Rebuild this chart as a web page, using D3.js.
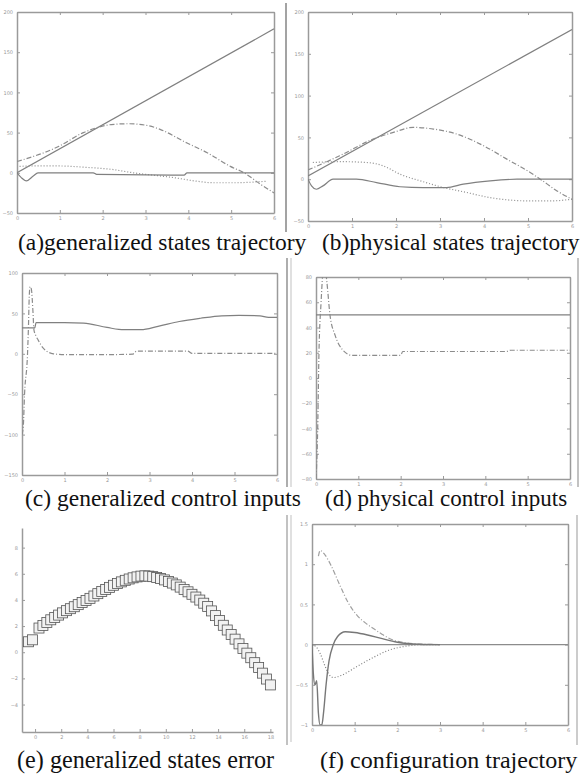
<!DOCTYPE html>
<html>
<head>
<meta charset="utf-8">
<script src="https://cdn.jsdelivr.net/npm/d3@7"></script>
<style>
  body { margin: 0; background: #fff; }
  svg { display: block; }
  .tick text { font-family: "DejaVu Sans", sans-serif; font-size: 5px; fill: #999; }
  text.caption { font-family: 'Liberation Serif', 'Times New Roman', serif; fill: #111; }
</style>
</head>
<body>
<svg id="fig" width="581" height="774"></svg>
<script>
// tick values
const tickT = [0, 1, 2, 3, 4, 5, 6];
const tickStates = [-50, 0, 50, 100, 150, 200];
const tickGenInputs = [-150, -100, -50, 0, 50, 100];
const tickPhysInputs = [-80, -60, -40, -20, 0, 20, 40, 60, 80];
const tickErrX = [0, 2, 4, 6, 8, 10, 12, 14, 16, 18];
const tickErrY = [-4, -2, 0, 2, 4, 6, 8];
const tickConfig = [-1, -0.5, 0, 0.5, 1, 1.5];

// (a) generalized states trajectory
const aRampX = [0, 6];
const aRampY = [0, 179];
const aPeakX = [0, 0.98, 1.55, 1.86, 2.2, 2.6, 3.03, 3.34, 3.97, 4.44, 4.98, 5.3, 5.69, 6];
const aPeakY = [14, 33, 50, 56, 60, 61, 59, 54, 37, 25, 8, 0, -14.5, -25];
const aDotX = [0.06, 0.38, 1.0, 1.55, 2.25, 2.72, 3.19, 3.66, 4.13, 4.6, 5.06, 5.5, 5.84];
const aDotY = [8, 8.5, 8.5, 7, 4, 0, -3, -6, -10, -12.4, -12.4, -11.6, -10.4];
const aWiggleX = [0, 0.1, 0.22, 0.38, 0.49, 1.78, 1.86, 3.9, 3.97, 6];
const aWiggleY = [0, -6, -10, -4, 0, 0, -2, -3, 0, 0];

// (b) physical states trajectory
const bRampX = [0, 6];
const bRampY = [4, 179];
const bPeakX = [0, 0.72, 1.48, 1.94, 2.39, 2.85, 3.38, 3.99, 4.52, 5.05, 5.28, 5.66, 6];
const bPeakY = [11, 28, 48, 56, 62, 60, 54, 40, 24, 8, 0, -14, -24];
const bDotX = [0.11, 0.72, 1.33, 1.71, 2.09, 2.62, 3.08, 3.53, 4.14, 4.59, 5.05, 5.5, 6];
const bDotY = [20, 21, 20, 16, 6, -3, -10, -15, -22, -25, -26, -26, -24];
const bWiggleX = [0, 0.08, 0.19, 0.34, 0.57, 1.1, 1.56, 2.09, 2.62, 3.15, 3.53, 4.14, 4.75, 6];
const bWiggleY = [0, -8, -12, -8, 0, 0, -4, -9, -10, -10, -6, -2, 0, 0];

// (c) generalized control inputs
const cSolidX = [0, 0.3, 0.33, 0.5, 1.0, 1.45, 2.0, 2.4, 2.8, 3.2, 3.7, 4.2, 4.7, 5.1, 5.6, 5.8, 6];
const cSolidY = [32, 32, 38.5, 38.5, 38.5, 38, 32.6, 29.8, 29.8, 33.9, 40, 44, 47, 47.5, 47, 45, 45];
const cDashX = [0, 0.03, 0.06, 0.13, 0.15, 0.17, 0.19, 0.22, 0.26, 0.28, 0.33, 0.38, 0.5, 0.74, 1.0, 2.0, 2.6, 2.7, 3.9, 4.0, 5.0, 6.0];
const cDashY = [-100, -90, -50, 0, 30, 70, 83, 80, 50, 30, 22, 17, 7, 0, -1, -1, -0.5, 3.4, 3.4, 0.5, 0.5, 0.5];

// (d) physical control inputs
const dSolidX = [0, 6];
const dSolidY = [50, 50];
const dDashX = [0, 0.04, 0.07, 0.12, 0.17, 0.21, 0.26, 0.33, 0.45, 0.61, 0.85, 1.0, 2.0, 2.05, 4.5, 4.6, 6.0];
const dDashY = [-80, -40, 20, 60, 85, 88, 75, 50, 34, 23, 18, 18, 18, 21, 21, 22, 22];

// (e) generalized states error
const eX = [-0.5, -0.2, 0.3, 0.6, 0.9, 1.2, 1.5, 1.8, 2.1, 2.4, 2.7, 3.0, 3.3, 3.6, 3.9, 4.2, 4.5,
  4.8, 5.1, 5.4, 5.7, 6.0, 6.3, 6.6, 6.9, 7.2, 7.5, 7.8, 8.1, 8.4, 8.7, 9.0, 9.3, 9.6, 9.9,
  10.2, 10.5, 10.8, 11.1, 11.4, 11.7, 12.0, 12.3, 12.6, 12.9, 13.2, 13.5, 13.8, 14.1, 14.4,
  14.7, 15.0, 15.3, 15.6, 15.9, 16.2, 16.5, 16.8, 17.1, 17.4, 17.7, 18.0];
const eY = [0.8, 0.95, 1.85, 2.05, 2.28, 2.48, 2.66, 2.84, 3.01, 3.18, 3.33, 3.48, 3.64, 3.8, 3.96, 4.12, 4.3,
  4.48, 4.65, 4.8, 4.96, 5.12, 5.26, 5.38, 5.5, 5.6, 5.69, 5.76, 5.82, 5.84, 5.82, 5.78, 5.72, 5.64, 5.53,
  5.41, 5.29, 5.15, 4.98, 4.8, 4.62, 4.43, 4.22, 3.99, 3.75, 3.5, 3.16, 2.8, 2.43, 2.06,
  1.7, 1.35, 1.0, 0.64, 0.28, -0.07, -0.42, -0.8, -1.17, -1.6, -2.05, -2.5];

// (f) configuration trajectory
const fZeroX = [0, 6];
const fZeroY = [0, 0];
const fSolidX = [0, 0.03, 0.07, 0.11, 0.15, 0.19, 0.23, 0.27, 0.33, 0.4, 0.5, 0.6, 0.78, 1.0, 1.3, 1.6, 2.0, 2.5, 3.0];
const fSolidY = [0, -0.35, -0.5, -0.45, -0.85, -1.0, -1.0, -0.85, -0.5, -0.2, 0.0, 0.1, 0.16, 0.15, 0.12, 0.08, 0.03, 0.005, 0];
const fDashX = [0.15, 0.19, 0.3, 0.45, 0.66, 0.85, 1.06, 1.25, 1.44, 1.64, 1.84, 2.1, 2.4, 3.0];
const fDashY = [1.1, 1.17, 1.12, 0.98, 0.73, 0.52, 0.36, 0.27, 0.2, 0.13, 0.07, 0.03, 0.01, 0];
const fDotX = [0, 0.1, 0.2, 0.3, 0.4, 0.5, 0.7, 1.0, 1.4, 1.8, 2.2, 2.6, 3.0];
const fDotY = [0, -0.03, -0.12, -0.26, -0.37, -0.41, -0.38, -0.29, -0.17, -0.07, -0.02, 0, 0];

// caption texts
const captionTexts = [
  '(a)generalized states trajectory',
  '(b)physical states trajectory',
  '(c) generalized control inputs',
  '(d) physical control inputs',
  '(e) generalized states error',
  '(f) configuration trajectory'
];

const svg = d3.select('#fig');
const frameColor = '#9a9a9a';
const lineColor = '#808080';
const DASHDOT = '5,2,1,2';
const DOT = '1,2';
const tickFmt = d3.format('~g');

function makePanel (id, box, xDomain, yDomain, xTicks, yTicks, boxed) {
  const x = d3.scaleLinear().domain(xDomain).range([box.left, box.right]);
  const y = d3.scaleLinear().domain(yDomain).range([box.bottom, box.top]);
  const g = svg.append('g').attr('class', 'panel-' + id);

  g.append('clipPath').attr('id', 'clip-' + id)
    .append('rect')
    .attr('x', box.left).attr('y', box.top)
    .attr('width', box.right - box.left).attr('height', box.bottom - box.top);

  g.append('g')
    .attr('transform', 'translate(0,' + box.bottom + ')')
    .call(d3.axisBottom(x).tickValues(xTicks).tickFormat(tickFmt).tickSize(-3).tickSizeOuter(0).tickPadding(3));
  g.append('g')
    .attr('transform', 'translate(' + box.left + ',0)')
    .call(d3.axisLeft(y).tickValues(yTicks).tickFormat(tickFmt).tickSize(-3).tickSizeOuter(0).tickPadding(4));

  if (boxed) {
    g.append('g')
      .attr('transform', 'translate(0,' + box.top + ')')
      .call(d3.axisTop(x).tickValues(xTicks).tickSize(-3).tickSizeOuter(0).tickFormat(''));
    g.append('g')
      .attr('transform', 'translate(' + box.right + ',0)')
      .call(d3.axisRight(y).tickValues(yTicks).tickSize(-3).tickSizeOuter(0).tickFormat(''));
  }

  g.selectAll('.domain').attr('stroke', frameColor).attr('stroke-width', 1.5);
  g.selectAll('.tick line').attr('stroke', frameColor).attr('stroke-width', 1);

  return {id, x, y, g};
}

function drawLine (p, xs, ys, dash, color, width) {
  const pts = xs.map((v, i) => [v, ys[i]]);
  p.g.append('path')
    .datum(pts)
    .attr('clip-path', 'url(#clip-' + p.id + ')')
    .attr('fill', 'none')
    .attr('stroke', color || lineColor)
    .attr('stroke-width', width || 1.2)
    .attr('stroke-dasharray', dash)
    .attr('d', d3.line()
      .x(d => p.x(d[0]))
      .y(d => p.y(d[1]))
      .curve(d3.curveMonotoneX));
}

// (a)
let pa = makePanel('a', {left: 17, right: 274, top: 12, bottom: 213}, [0, 6], [-50, 200], tickT, tickStates, true);
drawLine(pa, aRampX, aRampY, null);
drawLine(pa, aPeakX, aPeakY, DASHDOT, '#8c8c8c');
drawLine(pa, aDotX, aDotY, DOT, '#8c8c8c');
drawLine(pa, aWiggleX, aWiggleY, null);

// (b)
let pb = makePanel('b', {left: 308, right: 572, top: 12, bottom: 221}, [0, 6], [-50, 200], tickT, tickStates, true);
drawLine(pb, bRampX, bRampY, null);
drawLine(pb, bPeakX, bPeakY, DASHDOT, '#8c8c8c');
drawLine(pb, bDotX, bDotY, DOT, '#8c8c8c');
drawLine(pb, bWiggleX, bWiggleY, null);

// (c)
let pc = makePanel('c', {left: 22, right: 277, top: 273, bottom: 475}, [0, 6], [-150, 100], tickT, tickGenInputs, true);
drawLine(pc, cSolidX, cSolidY, null);
drawLine(pc, cDashX, cDashY, DASHDOT, '#8c8c8c');

// (d)
let pd = makePanel('d', {left: 316, right: 570, top: 277, bottom: 479}, [0, 6], [-80, 80], tickT, tickPhysInputs, true);
drawLine(pd, dSolidX, dSolidY, null);
drawLine(pd, dDashX, dDashY, DASHDOT, '#8c8c8c');

// (e) open square markers, axes on left and bottom only
let pe = makePanel('e', {left: 22, right: 273, top: 528, bottom: 732}, [-1, 18.2], [-6.1, 9.5], tickErrX, tickErrY, false);
const side = 10;
pe.g.selectAll('rect.mark')
  .data(eX.map((v, i) => [v, eY[i]]))
  .enter().append('rect')
  .attr('class', 'mark')
  .attr('x', d => pe.x(d[0]) - side / 2)
  .attr('y', d => pe.y(d[1]) - side / 2)
  .attr('width', side)
  .attr('height', side)
  .attr('fill', '#f2f2f2')
  .attr('stroke', '#555')
  .attr('stroke-width', 0.8);

// (f)
let pf = makePanel('f', {left: 312, right: 568, top: 524, bottom: 725}, [0, 6], [-1, 1.5], tickT, tickConfig, true);
drawLine(pf, fZeroX, fZeroY, null, '#8c8c8c');
drawLine(pf, fDashX, fDashY, DASHDOT, '#a0a0a0');
drawLine(pf, fDotX, fDotY, DOT, '#808080');
drawLine(pf, fSolidX, fSolidY, null, '#777', 1.4);

// scan border lines between sub-figures
const borders = [
  [286, 3, 232, '#666'],
  [287, 258, 487, '#777'],
  [291, 258, 487, '#ccc'],
  [578, 258, 487, '#999'],
  [287, 515, 745, '#999'],
  [291, 515, 742, '#ccc'],
  [577, 515, 745, '#aaa']
];
svg.selectAll('line.border')
  .data(borders)
  .enter().append('line')
  .attr('class', 'border')
  .attr('x1', d => d[0]).attr('x2', d => d[0])
  .attr('y1', d => d[1]).attr('y2', d => d[2])
  .attr('stroke', d => d[3])
  .attr('stroke-width', 1.2);

// captions under each panel: x, baseline, font size
const captionPos = [[18, 250, 23.5], [322, 250, 23.3], [25, 506, 23.5], [325, 506, 23], [17, 768, 24.2], [320, 768, 24]];
svg.selectAll('text.caption')
  .data(captionTexts)
  .enter().append('text')
  .attr('class', 'caption')
  .attr('x', (d, i) => captionPos[i][0])
  .attr('y', (d, i) => captionPos[i][1])
  .style('font-size', (d, i) => captionPos[i][2] + 'px')
  .text(d => d);
</script>
</body>
</html>
